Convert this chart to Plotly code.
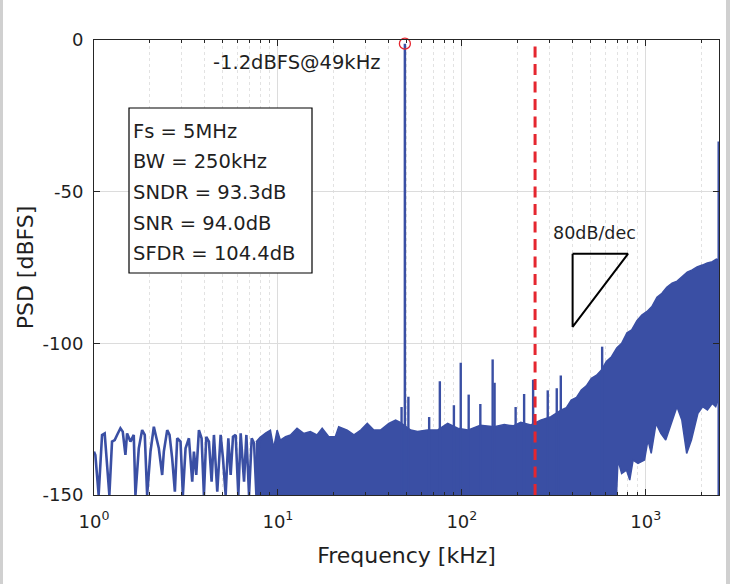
import plotly.graph_objects as go

# ---------------- data ----------------
# low-frequency PSD bins (kHz, dBFS)
lf_freq = [1.000, 1.017, 1.060, 1.106, 1.143, 1.177, 1.212, 1.253, 1.296, 1.335,
           1.392, 1.433, 1.482, 1.513, 1.578, 1.645, 1.680, 1.752, 1.827, 1.888,
           1.945, 2.028, 2.115, 2.186, 2.251, 2.348, 2.397, 2.500, 2.574, 2.661,
           2.752, 2.834, 2.954, 3.042, 3.146, 3.281, 3.421, 3.493, 3.597, 3.719,
           3.845, 3.959, 4.077, 4.216, 4.359, 4.488, 4.680, 4.881, 5.026, 5.197,
           5.374, 5.534, 5.698, 5.891, 6.091, 6.273, 6.542, 6.737, 6.965, 7.202,
           7.418, 7.636, 7.898, 8.165]
lf_psd = [-135.7, -136.8, -150.0, -130.2, -129.7, -140.1, -150.0, -132.4, -131.9, -130.2,
          -128.0, -129.1, -136.8, -129.7, -132.4, -130.2, -150.0, -134.6, -128.6, -130.2,
          -150.0, -135.7, -127.5, -131.3, -134.6, -143.4, -135.7, -128.6, -130.2, -137.9,
          -148.9, -131.3, -132.4, -150.0, -134.6, -131.3, -145.6, -135.7, -143.4, -128.6,
          -131.3, -150.0, -130.8, -132.4, -145.6, -130.2, -148.9, -130.2, -137.9, -150.0,
          -131.3, -143.4, -130.8, -130.2, -150.0, -129.7, -145.6, -130.2, -150.0, -131.3,
          -133.0, -150.0, -131.9, -131.3]

# upper envelope of the dense noise band
band_up_freq = [7.6, 8.0, 8.6, 9.1, 9.48, 9.9, 10.3, 11.0, 11.7, 12.7, 13.8, 15.0, 16.3, 17.4,
                18.9, 20.5, 21.4, 23.8, 25.9, 28.2, 30.6, 33.2, 36.1, 40.1, 43.6, 46.0,
                52.7, 57.4, 65.0, 73.7, 83.7, 94.9, 107.7, 126, 150, 170, 190, 209, 237,
                268, 305, 346, 370, 393, 420, 446, 475, 506, 540, 574, 610, 651, 695, 739,
                790, 838, 895, 951, 1015, 1079, 1150, 1224, 1300, 1389, 1480, 1576, 1680,
                1788, 1900, 2028, 2160, 2301, 2420, 2500]
band_up_psd = [-132.5, -131.0, -129.5, -128.6, -134.5, -128.6, -131.9, -130.8, -130.2, -128.0,
               -129.7, -129.1, -130.2, -128.0, -130.8, -130.8, -127.5, -128.6, -130.2, -128.6,
               -126.4, -128.6, -128.6, -126.4, -125.3, -126.0, -128.6, -129.1, -128.6, -128.6,
               -126.4, -128.0, -128.6, -127.0, -127.5, -126.8, -127.2, -126.0, -126.9, -125.3,
               -124.2, -122.0, -121.2, -118.7, -117.8, -115.4, -114.0, -111.5, -110.5, -108.8,
               -106.0, -104.4, -101.5, -100.0, -96.5, -95.6, -92.5, -90.7, -89.5, -87.9, -84.8,
               -83.5, -81.5, -80.2, -79.5, -78.0, -76.5, -75.8, -74.8, -74.2, -73.5, -73.1,
               -72.2, -72.5]

# lower envelope of the noise band
band_lo_freq = [7.6, 693, 706, 739, 785, 818, 853, 907, 984, 1027, 1070, 1137, 1207,
                1283, 1362, 1477, 1570, 1668, 1770, 1920, 2036, 2163, 2300, 2400, 2500]
band_lo_psd = [-150.0, -150.0, -138.5, -142.9, -141.8, -145.1, -138.5, -139.6, -138.5,
               -131.9, -136.3, -126.4, -129.7, -131.9, -127.5, -120.9, -125.3, -136.3,
               -131.9, -123.1, -120.9, -122.0, -119.8, -120.9, -118.0]

# harmonic / spur lines
spur_freq = [47.0, 51.2, 66.4, 75.9, 90.5, 98.6, 108.9, 126, 147, 150.6, 196, 218, 244,
             293, 328, 345, 579, 2490]
spur_psd = [-121.0, -117.6, -124.3, -112.5, -120.4, -106.4, -116.9, -120.0, -105.3, -113.0,
            -121.0, -116.7, -112.0, -115.5, -114.8, -110.6, -101.1, -33.5]

# input tone
tone_freq = 49.0
tone_psd = -1.2

# signal bandwidth
bw_freq = 250.0

# 80 dB/dec slope triangle
tri_freq = [400, 800, 400, 400]
tri_psd = [-70.5, -70.5, -94.6, -70.5]

info_lines = ["Fs = 5MHz", "BW = 250kHz", "SNDR = 93.3dB", "SNR = 94.0dB", "SFDR = 104.4dB"]

x_tickvals = [1, 10, 100, 1000]
x_ticktext = ["10<sup>0</sup>", "10<sup>1</sup>", "10<sup>2</sup>", "10<sup>3</sup>"]
y_tickvals = [-150, -100, -50, 0]
y_ticktext = ["-150", "-100", "-50", "0"]

# ---------------- figure ----------------
BLUE = "#3a4fa4"
RED = "#e5262f"
FONT = "DejaVu Sans, Liberation Sans, Arial, sans-serif"
TXT = "#1f1f1f"

fig = go.Figure()

band_x = band_up_freq + band_lo_freq[::-1]
band_y = band_up_psd + band_lo_psd[::-1]
fig.add_trace(go.Scatter(x=band_x, y=band_y, mode="lines", fill="toself",
                         fillcolor=BLUE, line=dict(color=BLUE, width=1.5),
                         hoverinfo="skip", showlegend=False))

fig.add_trace(go.Scatter(x=lf_freq, y=lf_psd, mode="lines",
                         line=dict(color=BLUE, width=2.6), showlegend=False))

sx, sy = [], []
for f, p in zip(spur_freq, spur_psd):
    sx += [f, f, None]
    sy += [-150, p, None]
fig.add_trace(go.Scatter(x=sx, y=sy, mode="lines", line=dict(color=BLUE, width=2.4),
                         showlegend=False))

fig.add_trace(go.Scatter(x=[tone_freq, tone_freq], y=[-150, tone_psd], mode="lines",
                         line=dict(color=BLUE, width=2.5), showlegend=False))

fig.add_trace(go.Scatter(x=[bw_freq, bw_freq], y=[-150, 0], mode="lines",
                         line=dict(color=RED, width=3, dash="11px,6.5px"), showlegend=False))

fig.add_trace(go.Scatter(x=tri_freq, y=tri_psd, mode="lines",
                         line=dict(color="black", width=2), showlegend=False))

fig.add_trace(go.Scatter(x=[tone_freq], y=[tone_psd], mode="markers",
                         marker=dict(symbol="circle-open", size=11, color=RED,
                                     line=dict(width=1.3, color=RED)),
                         cliponaxis=False, showlegend=False))

# plot area in pixels: x 94..719, y 40..495
L, R, T, B = 94, 719, 40, 495
def px(x):
    return (x - L) / (R - L)
def py(y):
    return (B - y) / (B - T)

annotations = []
annotations.append(dict(xref="paper", yref="paper", x=px(297), y=py(62),
                        xanchor="center", yanchor="middle",
                        text="-1.2dBFS@49kHz", showarrow=False,
                        font=dict(family=FONT, size=19.5, color=TXT)))
annotations.append(dict(xref="paper", yref="paper", x=px(594), y=py(233),
                        xanchor="center", yanchor="middle",
                        text="80dB/dec", showarrow=False,
                        font=dict(family=FONT, size=17.5, color=TXT)))
for i, t in enumerate(info_lines):
    yc = 131 + i * 30.7
    annotations.append(dict(xref="paper", yref="paper", x=px(131), y=py(yc),
                            xanchor="left", yanchor="middle", text=t, showarrow=False,
                            font=dict(family=FONT, size=19.5, color=TXT)))

shapes = [
    dict(type="rect", xref="paper", yref="paper", x0=px(129), x1=px(312),
         y0=py(273), y1=py(108), line=dict(color="black", width=1.2),
         fillcolor="white", layer="above"),
    dict(type="rect", xref="paper", yref="paper", x0=px(0), x1=px(3),
         y0=py(584), y1=py(0), line=dict(width=0), fillcolor="#d0d0d0"),
    dict(type="rect", xref="paper", yref="paper", x0=px(726), x1=px(730),
         y0=py(584), y1=py(0), line=dict(width=0), fillcolor="#d0d0d0"),
]

minor_x = [2, 3, 4, 5, 6, 7, 8, 9, 20, 30, 40, 50, 60, 70, 80, 90,
           200, 300, 400, 500, 600, 700, 800, 900, 2000]

fig.update_layout(
    width=730, height=584,
    margin=dict(l=L, r=730 - R, t=T, b=584 - B),
    paper_bgcolor="white", plot_bgcolor="white",
    font=dict(family=FONT, size=18, color=TXT),
    annotations=annotations, shapes=shapes,
    xaxis=dict(type="log", range=[0, 3.39794],
               tickvals=x_tickvals, ticktext=x_ticktext,
               ticks="inside", ticklen=6, tickcolor="#262626",
               showline=True, linecolor="#262626", linewidth=1, mirror="ticks",
               showgrid=True, gridcolor="#dcdcdc", gridwidth=1,
               zeroline=False, ticklabelstandoff=10,
               minor=dict(tickvals=minor_x, ticks="inside", ticklen=3,
                          tickcolor="#262626", showgrid=True,
                          gridcolor="#e2e2e2", griddash="dot", gridwidth=1),
               tickfont=dict(family=FONT, size=18, color=TXT),
               title=dict(text="Frequency [kHz]", standoff=17,
                          font=dict(family=FONT, size=22, color=TXT))),
    yaxis=dict(range=[-150, 0], tickvals=y_tickvals, ticktext=y_ticktext,
               ticks="inside", ticklen=6, tickcolor="#262626",
               showline=True, linecolor="#262626", linewidth=1, mirror="ticks",
               showgrid=True, gridcolor="#dcdcdc", gridwidth=1,
               zeroline=False, ticklabelstandoff=6,
               tickfont=dict(family=FONT, size=18, color=TXT),
               title=dict(text="PSD [dBFS]", standoff=2,
                          font=dict(family=FONT, size=22, color=TXT))),
)

fig.write_html("out.html", config={"displayModeBar": False},
               post_script="document.body.style.margin='0';document.body.style.overflow='hidden';")
